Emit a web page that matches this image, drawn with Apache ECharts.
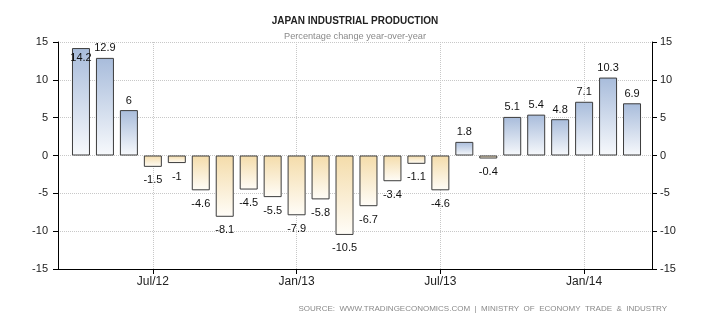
<!DOCTYPE html>
<html>
<head>
<meta charset="utf-8">
<script src="https://cdn.jsdelivr.net/npm/echarts@6/dist/echarts.min.js"></script>
<style>html,body{margin:0;padding:0;background:#fff}#c{width:710px;height:325px}</style>
</head>
<body>
<div id="c"></div>
<script>
const categories = ['Apr/12','May/12','Jun/12','Jul/12','Aug/12','Sep/12','Oct/12','Nov/12','Dec/12',
  'Jan/13','Feb/13','Mar/13','Apr/13','May/13','Jun/13','Jul/13','Aug/13','Sep/13','Oct/13','Nov/13','Dec/13',
  'Jan/14','Feb/14','Mar/14'];
const values = [14.2, 12.9, 6, -1.5, -1, -4.6, -8.1, -4.5, -5.5, -7.9, -5.8, -10.5, -6.7, -3.4, -1.1, -4.6,
  1.8, -0.4, 5.1, 5.4, 4.8, 7.1, 10.3, 6.9];
const xTickLabels = ['Jul/12','Jan/13','Jul/13','Jan/14'];
const yMin = -15, yMax = 15, yStep = 5;
const titleText = 'JAPAN INDUSTRIAL PRODUCTION';
const subtitleText = 'Percentage change year-over-year';
const sourceText = 'SOURCE:  WWW.TRADINGECONOMICS.COM  |  MINISTRY  OF  ECONOMY  TRADE  &  INDUSTRY';

const posGrad = {type:'linear',x:0,y:0,x2:0,y2:1,colorStops:[{offset:0,color:'#a8bcdb'},{offset:1,color:'#f7f9fc'}]};
const negGrad = {type:'linear',x:0,y:0,x2:0,y2:1,colorStops:[{offset:0,color:'#f4dcaa'},{offset:1,color:'#fffdf8'}]};

const font = '"Liberation Sans", Arial, sans-serif';
const showLabel = (i, v) => xTickLabels.indexOf(v) >= 0;

const barData = values.map(v => ({
  value: v,
  itemStyle: {color: v >= 0 ? posGrad : negGrad},
  label: v >= 0
    ? (v > yMax - 1.5 ? {position: 'insideTop', distance: 4} : {position: 'top', distance: 4})
    : {position: 'bottom', distance: 8}
}));

const chart = echarts.init(document.getElementById('c'), null, {renderer: 'canvas'});
chart.setOption({
  animation: false,
  backgroundColor: '#fff',
  title: [
    {text: titleText, left: 'center', top: 11, textStyle: {fontFamily: font, fontSize: 10, fontWeight: 'bold', color: '#222'}},
    {text: subtitleText, left: 'center', top: 27, textStyle: {fontFamily: font, fontSize: 9.2, fontWeight: 'normal', color: '#8a8a8a'}}
  ],
  graphic: [{
    type: 'text', right: 43, top: 305,
    style: {text: sourceText, font: '8px ' + font, fill: '#8a8a8a'}
  }],
  grid: [
    {left: 58, right: 58, top: 42, bottom: 56},
    {left: 69, right: 66, top: 42, bottom: 56}
  ],
  xAxis: [
    {gridIndex: 0, type: 'value', min: 0, max: 1, position: 'bottom',
     axisLine: {show: true, onZero: false, lineStyle: {color: '#000', width: 1}},
     axisTick: {show: false}, axisLabel: {show: false}, splitLine: {show: false}},
    {gridIndex: 1, type: 'category', data: categories, position: 'bottom',
     axisLine: {show: false, onZero: false},
     axisTick: {show: true, alignWithLabel: true, interval: showLabel, length: 5, lineStyle: {color: '#000'}},
     axisLabel: {interval: showLabel, margin: 7, fontFamily: font, fontSize: 12, color: '#222'},
     splitLine: {show: true, alignWithLabel: true, interval: showLabel, lineStyle: {type: 'dotted', color: '#c8c8c8'}}}
  ],
  yAxis: [
    {gridIndex: 0, type: 'value', position: 'left', min: yMin, max: yMax, interval: yStep,
     axisLine: {show: true, onZero: false, lineStyle: {color: '#000', width: 1}},
     axisTick: {show: true, length: 5, lineStyle: {color: '#000'}},
     axisLabel: {margin: 10, fontFamily: font, fontSize: 11, color: '#222'},
     splitLine: {show: true, lineStyle: {type: 'dotted', color: '#c8c8c8'}}},
    {gridIndex: 0, type: 'value', position: 'right', min: yMin, max: yMax, interval: yStep,
     axisLine: {show: true, onZero: false, lineStyle: {color: '#000', width: 1}},
     axisTick: {show: true, length: 5, lineStyle: {color: '#000'}},
     axisLabel: {margin: 8, fontFamily: font, fontSize: 11, color: '#222'},
     splitLine: {show: false}},
    {gridIndex: 1, type: 'value', min: yMin, max: yMax, interval: yStep, show: false}
  ],
  series: [{
    type: 'bar', xAxisIndex: 1, yAxisIndex: 2,
    data: barData, barWidth: 18,
    itemStyle: {borderColor: '#3c3c3c', borderWidth: 1},
    label: {show: true, fontFamily: font, fontSize: 11, color: '#111'}
  }]
});
</script>
</body>
</html>
